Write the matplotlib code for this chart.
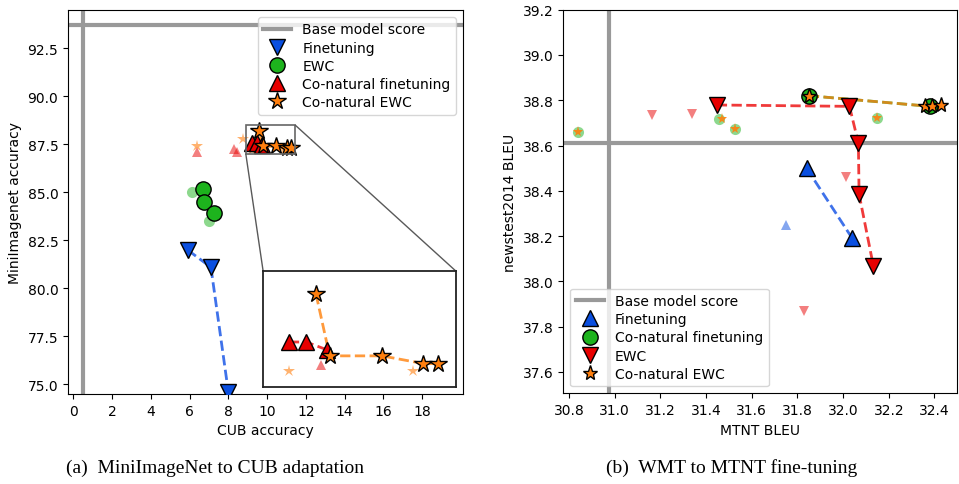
import matplotlib
matplotlib.use("Agg")
import matplotlib.pyplot as plt
from matplotlib.patches import Rectangle, ConnectionPatch

# ---------------- Data: left panel (MiniImageNet -> CUB) ----------------
base_cub = 0.5
base_mini = 93.7

ft_cub = [5.9, 7.1, 8.0]
ft_mini = [82.0, 81.1, 74.6]

ewc_cub = [6.7, 6.75, 7.25]
ewc_mini = [85.2, 84.5, 83.9]
ewc_cub_faded = [6.1, 7.0]
ewc_mini_faded = [85.0, 83.5]

cft_cub = [9.24, 9.47, 9.74]
cft_mini = [87.58, 87.58, 87.48]
cft_cub_faded = [6.36, 8.27, 8.44, 9.67]
cft_mini_faded = [87.11, 87.25, 87.08, 87.28]

cewc_cub = [9.6, 9.78, 10.47, 11.02, 11.21]
cewc_mini = [88.2, 87.40, 87.40, 87.30, 87.30]
cewc_cub_faded = [6.38, 8.73, 9.24, 10.88]
cewc_mini_faded = [87.41, 87.78, 87.20, 87.20]

# ---------------- Data: right panel (WMT -> MTNT) ----------------
base_mtnt = 30.977
base_news = 38.611

r_ft_x = [31.84, 32.04]
r_ft_y = [38.50, 38.19]
r_ft_x_faded = [31.75]
r_ft_y_faded = [38.25]

r_cft_x = [31.85, 32.38]
r_cft_y = [38.82, 38.773]
r_cft_x_faded = [30.841, 31.457, 31.527, 32.150]
r_cft_y_faded = [38.658, 38.717, 38.673, 38.72]

r_ewc_x = [31.447, 32.028, 32.067, 32.07, 32.133]
r_ewc_y = [38.779, 38.773, 38.611, 38.385, 38.066]
r_ewc_x_faded = [31.165, 31.337, 32.013, 31.831]
r_ewc_y_faded = [38.735, 38.739, 38.459, 37.867]

r_cewc_x = [31.85, 32.359, 32.391, 32.428]
r_cewc_y = [38.82, 38.775, 38.775, 38.777]
r_cewc_x_faded = [30.841, 31.469, 31.527, 32.150]
r_cewc_y_faded = [38.658, 38.717, 38.673, 38.72]

left_xticks = [0, 2, 4, 6, 8, 10, 12, 14, 16, 18]
left_yticks = [75.0, 77.5, 80.0, 82.5, 85.0, 87.5, 90.0, 92.5]
right_xticks = [30.8, 31.0, 31.2, 31.4, 31.6, 31.8, 32.0, 32.2, 32.4]
right_yticks = [37.6, 37.8, 38.0, 38.2, 38.4, 38.6, 38.8, 39.0, 39.2]

# ---------------- Style ----------------
BLUE = "#0a4fe0"
BLUE_L = "#3f72ea"
GREEN = "#1db31d"
RED = "#e80000"
RED_L = "#f03a3a"
ORANGE = "#ff7f0e"
ORANGE_L = "#ff9a3c"
GOLD = "#d18a1c"
GRAY = "#999999"

plt.rcParams['font.family'] = ['DejaVu Sans']
plt.rcParams['font.size'] = 10

fig = plt.figure(figsize=(9.59, 4.85), dpi=100)

ax = fig.add_axes([0.0709, 0.1856, 0.4119, 0.7918])
ax2 = fig.add_axes([0.5874, 0.187, 0.4108, 0.7909])

MS = 11
ek = dict(markeredgecolor='black', markeredgewidth=1.0)
fd = dict(alpha=0.5, markeredgewidth=0, linestyle='none')


def draw_left(a, inset=False):
    ms = MS
    a.plot(ft_cub, ft_mini, '--', color=BLUE_L, lw=2, zorder=2)
    a.plot(cft_cub, cft_mini, '--', color=RED_L, lw=2, zorder=2)
    a.plot(cewc_cub, cewc_mini, '--', color=ORANGE_L, lw=2, zorder=2)
    a.plot(ewc_cub_faded, ewc_mini_faded, 'o', color=GREEN, ms=8, **fd)
    a.plot(cft_cub_faded, cft_mini_faded, '^', color=RED, ms=7, **fd)
    a.plot(cewc_cub_faded, cewc_mini_faded, '*', color=ORANGE, ms=9, alpha=0.6,
           markeredgewidth=0, linestyle='none')
    h1, = a.plot(ft_cub, ft_mini, 'v', color=BLUE, ms=ms, linestyle='none', zorder=3, **ek)
    h2, = a.plot(ewc_cub, ewc_mini, 'o', color=GREEN, ms=ms, linestyle='none', zorder=3, **ek)
    h3, = a.plot(cft_cub, cft_mini, '^', color=RED, ms=ms, linestyle='none', zorder=3, **ek)
    h4, = a.plot(cewc_cub, cewc_mini, '*', color=ORANGE, ms=ms + 2, linestyle='none', zorder=4, **ek)
    return h1, h2, h3, h4


hb = ax.axhline(base_mini, color=GRAY, lw=3, zorder=1)
ax.axvline(base_cub, color=GRAY, lw=3, zorder=1)
h1, h2, h3, h4 = draw_left(ax)
ax.set_xlim(-0.27, 20.1)
ax.set_ylim(74.5, 94.5)
ax.set_xticks(left_xticks)
ax.set_yticks(left_yticks)
ax.set_yticklabels([f"{v:.1f}" for v in left_yticks])
ax.set_xlabel("CUB accuracy")
ax.set_ylabel("MiniImagenet accuracy")
ax.legend([hb, h1, h2, h3, h4],
          ["Base model score", "Finetuning", "EWC", "Co-natural finetuning", "Co-natural EWC"],
          loc='upper right', fontsize=10, labelspacing=0.3, handlelength=2.0, framealpha=0.8)

# zoomed inset
x0, x1, y0, y1 = 8.9, 11.45, 87.0, 88.5
axins = ax.inset_axes([0.494, 0.019, 0.488, 0.301])
draw_left(axins, inset=True)
axins.set_xlim(x0, x1)
axins.set_ylim(y0, y1)
axins.set_xticks([])
axins.set_yticks([])
for s in axins.spines.values():
    s.set_linewidth(1.3)
    s.set_color('#222222')
ax.add_patch(Rectangle((x0, y0), x1 - x0, y1 - y0, fill=False, edgecolor='0.4', lw=1.2, zorder=5))
for xyA, xyB in [((x0, y0), (0, 1)), ((x1, y1), (1, 1))]:
    cp = ConnectionPatch(xyA=xyA, coordsA=ax.transData, xyB=xyB, coordsB=axins.transAxes,
                         color='0.35', lw=1.0, zorder=5)
    ax.add_artist(cp)

# ---------------- Right panel ----------------
rb = ax2.axhline(base_news, color=GRAY, lw=3, zorder=1)
ax2.axvline(base_mtnt, color=GRAY, lw=3, zorder=1)
ax2.plot(r_ft_x, r_ft_y, '--', color=BLUE_L, lw=2, zorder=2)
ax2.plot(r_ewc_x, r_ewc_y, '--', color=RED_L, lw=2, zorder=2)
ax2.plot(r_cft_x, r_cft_y, '--', color=GREEN, lw=2, zorder=2, alpha=0.6)
ax2.plot(r_cewc_x, r_cewc_y, '--', color=GOLD, lw=2, zorder=2)
ax2.plot(r_ft_x_faded, r_ft_y_faded, '^', color=BLUE, ms=7, **fd)
ax2.plot(r_ewc_x_faded, r_ewc_y_faded, 'v', color=RED, ms=7, **fd)
ax2.plot(r_cft_x_faded, r_cft_y_faded, 'o', color=GREEN, ms=8, **fd)
ax2.plot(r_cewc_x_faded, r_cewc_y_faded, '*', color=ORANGE, ms=8, alpha=0.9,
         markeredgewidth=0, linestyle='none')
g1, = ax2.plot(r_ft_x, r_ft_y, '^', color=BLUE, ms=MS, linestyle='none', zorder=3, **ek)
g2, = ax2.plot(r_cft_x, r_cft_y, 'o', color=GREEN, ms=MS, linestyle='none', zorder=3, **ek)
g3, = ax2.plot(r_ewc_x, r_ewc_y, 'v', color=RED, ms=MS, linestyle='none', zorder=3, **ek)
g4, = ax2.plot(r_cewc_x, r_cewc_y, '*', color=ORANGE, ms=MS, linestyle='none', zorder=4, **ek)
ax2.set_xlim(30.775, 32.5)
ax2.set_ylim(37.505, 39.2)
ax2.set_xticks(right_xticks)
ax2.set_xticklabels([f"{v:.1f}" for v in right_xticks])
ax2.set_yticks(right_yticks)
ax2.set_yticklabels([f"{v:.1f}" for v in right_yticks])
ax2.set_xlabel("MTNT BLEU")
ax2.set_ylabel("newstest2014 BLEU")
ax2.legend([rb, g1, g2, g3, g4],
           ["Base model score", "Finetuning", "Co-natural finetuning", "EWC", "Co-natural EWC"],
           loc='lower left', fontsize=10, labelspacing=0.3, handlelength=2.0, framealpha=0.8)

# captions
fig.text(0.224, 0.035, "(a)  MiniImageNet to CUB adaptation", ha='center', va='center',
         family='Liberation Serif', fontsize=14)
fig.text(0.763, 0.035, "(b)  WMT to MTNT fine-tuning", ha='center', va='center',
         family='Liberation Serif', fontsize=14)

fig.savefig("out.png", dpi=100)
